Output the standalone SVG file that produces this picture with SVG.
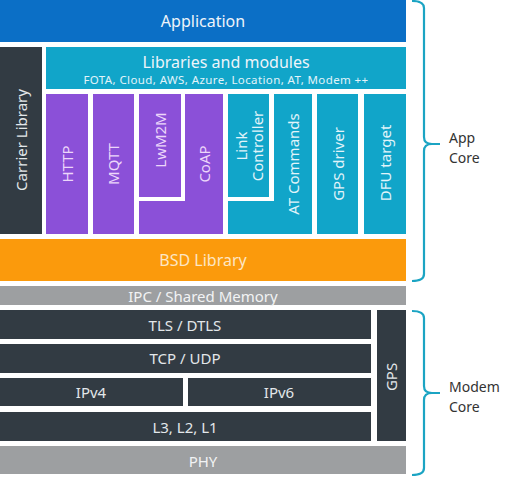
<svg xmlns="http://www.w3.org/2000/svg" width="507" height="477" viewBox="0 0 507 477">
<style>
text{font-family:"Noto Sans","Open Sans",sans-serif;text-anchor:middle;dominant-baseline:central}
.app{fill:#0b6fc6}
.teal{fill:#11a5c9}
.purple{fill:#8b50d8}
.dark{fill:#323b43}
.gray{fill:#9d9fa1}
.orange{fill:#fb9a0c}
.tw{fill:#eef4fa;font-size:16px}
.tp{fill:#ecd6fa;font-size:15px}
.tt{fill:#e2f4fa;font-size:15px}
.td{fill:#e3e7ea;font-size:15px}
.brace{fill:none;stroke:#1ba4c3;stroke-width:2.2}
.lbl{fill:#333;font-size:14px;text-anchor:start}
</style>
<rect width="507" height="477" fill="#fff"/>
<g id="application"><rect class="app" x="0" y="0" width="406" height="42"/><text class="tw" x="203" y="21" font-size="17">Application</text></g>
<g id="libraries"><rect class="teal" x="46" y="47" width="360" height="42"/><text class="tw" x="226" y="62">Libraries and modules</text><text x="226" y="79" style="fill:#e2f4fa;font-size:11.5px;letter-spacing:0.4px">FOTA, Cloud, AWS, Azure, Location, AT, Modem ++</text></g>
<g id="carrier"><rect class="dark" x="0" y="47" width="42" height="187"/><text class="td" font-size="16" transform="translate(21,140) rotate(-90)">Carrier Library</text></g>
<g id="http"><rect class="purple" x="46" y="94" width="42" height="140"/><text class="tp" transform="translate(67,164) rotate(-90)">HTTP</text></g>
<g id="mqtt"><rect class="purple" x="93" y="94" width="41" height="140"/><text class="tp" transform="translate(113,164) rotate(-90)">MQTT</text></g>
<g id="lwm2m"><rect class="purple" x="139" y="94" width="42" height="103"/><text class="tp" transform="translate(160,140) rotate(-90)">LwM2M</text></g>
<g id="coap"><path class="purple" d="M185 94H223V234H139V201H185Z"/><text class="tp" transform="translate(204,164) rotate(-90)">CoAP</text></g>
<g id="link"><rect class="teal" x="228" y="94" width="41" height="103"/><text class="tt" transform="translate(241,146) rotate(-90)">Link</text><text class="tt" transform="translate(257,146) rotate(-90)">Controller</text></g>
<g id="at"><path class="teal" d="M274 94H312V234H228V201H274Z"/><text class="tt" transform="translate(293,164) rotate(-90)">AT Commands</text></g>
<g id="gpsdriver"><rect class="teal" x="317" y="94" width="41" height="140"/><text class="tt" transform="translate(338,164) rotate(-90)">GPS driver</text></g>
<g id="dfu"><rect class="teal" x="364" y="94" width="42" height="140"/><text class="tt" transform="translate(385,163) rotate(-90)">DFU target</text></g>
<g id="bsd"><rect class="orange" x="0" y="239" width="406" height="42"/><text x="203" y="260" style="fill:#fde6c4;font-size:16px">BSD Library</text></g>
<g id="ipc"><rect class="gray" x="0" y="286" width="406" height="19"/><text x="203" y="296" style="fill:#f2f3f4;font-size:15px">IPC / Shared Memory</text></g>
<g id="tls"><rect class="dark" x="0" y="310" width="371" height="29"/><text class="td" x="185" y="325">TLS / DTLS</text></g>
<g id="tcp"><rect class="dark" x="0" y="344" width="371" height="29"/><text class="td" x="185" y="358">TCP / UDP</text></g>
<g id="ipv4"><rect class="dark" x="0" y="378" width="183" height="28"/><text class="td" x="91" y="392">IPv4</text></g>
<g id="ipv6"><rect class="dark" x="188" y="378" width="183" height="28"/><text class="td" x="279" y="392">IPv6</text></g>
<g id="l3"><rect class="dark" x="0" y="412" width="371" height="29"/><text class="td" x="185" y="427">L3, L2, L1</text></g>
<g id="gps"><rect class="dark" x="377" y="310" width="29" height="131"/><text class="td" transform="translate(391,377) rotate(-90)">GPS</text></g>
<g id="phy"><rect class="gray" x="0" y="446" width="406" height="28"/><text x="203" y="461" style="fill:#f2f3f4;font-size:15px">PHY</text></g>
<g id="connectors">
<path class="brace" d="M412 1Q424 1 424 8V137Q424 144 432 144H440M432 144Q424 144 424 151V274Q424 281 412 281"/>
<path class="brace" d="M412 311Q424 311 424 318V386Q424 393 432 393H440M432 393Q424 393 424 400V468Q424 475 412 475"/>
</g>
<g id="appcore-label"><text class="lbl" x="449" y="137">App</text><text class="lbl" x="449" y="157">Core</text></g>
<g id="modemcore-label"><text class="lbl" x="449" y="386">Modem</text><text class="lbl" x="449" y="406">Core</text></g>
</svg>
